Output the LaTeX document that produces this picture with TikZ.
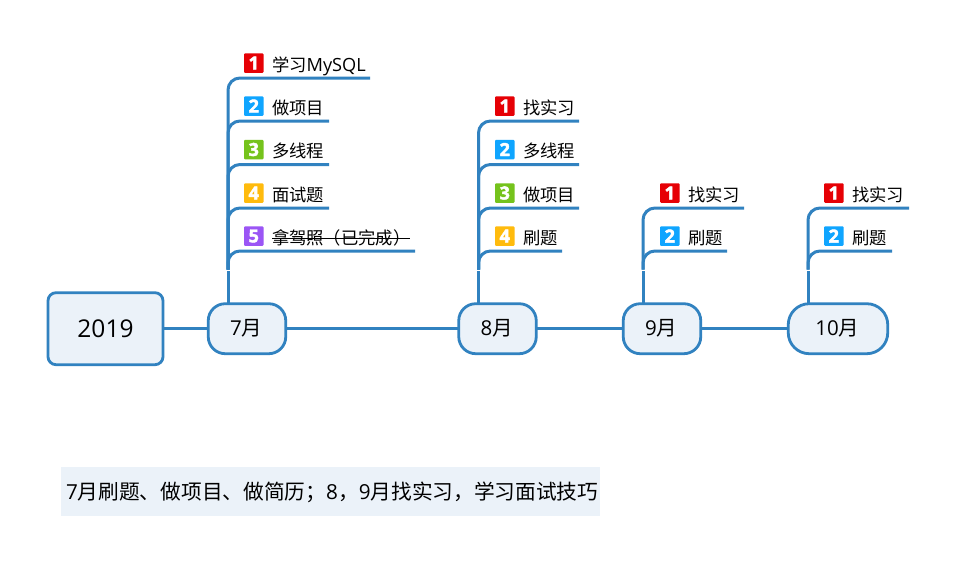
\documentclass[tikz,border=0pt]{standalone}
\usepackage{fontspec}
\setmainfont{Noto Sans CJK SC}
\newfontfamily\latf{Open Sans}
\newfontfamily\iconf[BoldFeatures={FakeBold=2.5}]{Open Sans}
\newcommand{\lat}[1]{{\latf #1}}
\definecolor{lineblue}{HTML}{3182C0}
\definecolor{boxfill}{HTML}{EBF2F9}
\definecolor{pri1}{HTML}{E60005}
\definecolor{pri2}{HTML}{0FA5FF}
\definecolor{pri3}{HTML}{75C31C}
\definecolor{pri4}{HTML}{FFBB0D}
\definecolor{pri5}{HTML}{9B55F5}
\tikzset{
  x=1pt,y=-1pt,
  bline/.style={draw=lineblue,line width=3pt,rounded corners=12pt},
  mline/.style={draw=lineblue,line width=2.6pt},
  tline/.style={draw=lineblue,line width=3pt},
  rootbox/.style={draw=lineblue,fill=boxfill,line width=2.8pt,rounded corners=8pt,minimum width=115pt,minimum height=72pt,inner sep=0pt,outer sep=0pt,font=\fontsize{24.5}{28}\selectfont},
  monthbox/.style={draw=lineblue,fill=boxfill,line width=2.8pt,rounded corners=17pt,minimum height=50pt,inner sep=0pt,outer sep=0pt,font=\fontsize{20.5}{24}\selectfont},
  iconbox/.style={fill=#1,rounded corners=1pt,minimum size=19.5pt,inner sep=0pt,outer sep=0pt,text=white,font=\iconf\bfseries\fontsize{18}{19}\selectfont},
  leaf/.style={anchor=base west,inner sep=0pt,outer sep=0pt,font=\fontsize{17.3}{20}\selectfont},
  notebox/.style={fill=boxfill,minimum width=539pt,minimum height=49pt,inner sep=0pt,outer sep=0pt},
  notetext/.style={anchor=base west,inner sep=0pt,outer sep=0pt,font=\fontsize{20.7}{24}\selectfont},
}
% #1 id, #2 trunk junction, #3 icon left x, #4 line y, #5 end x, #6 number, #7 colour, #8 text
\newcommand{\twig}[8]{%
  \node[iconbox=#7] (i#1) at (#3+9.75,#4-15) {#6};
  \node[leaf] (t#1) at (#3+28,#4-6.8) {#8};
  \coordinate (e#1) at (#5,#4);
  \draw[bline] (#2) |- (e#1);
}
\begin{document}
\begin{tikzpicture}
\useasboundingbox (0,0) rectangle (956,566);
\fill[white] (0,0) rectangle (956,566);

\node[rootbox] (root) at (105.5,328.7) {\lat{2019}};
\node[monthbox,minimum width=77.5pt] (m7) at (247,328.7) {\hspace*{-1.5pt}\lat{7}月};
\node[monthbox,minimum width=77.5pt] (m8) at (497.5,328.7) {\hspace*{-1.5pt}\lat{8}月};
\node[monthbox,minimum width=77.5pt] (m9) at (662,328.7) {\hspace*{-1.5pt}\lat{9}月};
\node[monthbox,minimum width=99.5pt,rounded corners=21pt] (m10) at (838,328.7) {\hspace*{-1.5pt}\lat{10}月};

\draw[mline] (root.east) -- (m7.west);
\draw[mline] (m7.east) -- (m8.west);
\draw[mline] (m8.east) -- (m9.west);
\draw[mline] (m9.east) -- (m10.west);

% trunks
\coordinate (j7) at (228,269.5);
\coordinate (j8) at (478.5,269.5);
\coordinate (j9) at (643,269.5);
\coordinate (j10) at (808,269.5);
\coordinate (s7) at (228,271);
\coordinate (s8) at (478.5,271);
\coordinate (s9) at (643,271);
\coordinate (s10) at (808,271);
\draw[tline] (s7) -- (s7 |- m7.north);
\draw[tline] (s8) -- (s8 |- m8.north);
\draw[tline] (s9) -- (s9 |- m9.north);
\draw[tline] (s10) -- (s10 |- m10.north);

% July
\twig{a1}{j7}{244}{78}{370}{1}{pri1}{学习{\latf\fontsize{18.2}{20}\selectfont MySQL}}
\twig{a2}{j7}{244}{121}{329}{2}{pri2}{做项目}
\twig{a3}{j7}{244}{164.5}{329}{3}{pri3}{多线程}
\twig{a4}{j7}{244}{208}{329}{4}{pri4}{面试题}
\twig{a5}{j7}{244}{251}{415}{5}{pri5}{拿驾照（已完成）}
\draw[black,line width=0.9pt] ([yshift=5.5pt]ta5.base west) -- ++(138,0) coordinate (sa5);

% August
\twig{b1}{j8}{495}{121}{579}{1}{pri1}{找实习}
\twig{b2}{j8}{495}{164.5}{579}{2}{pri2}{多线程}
\twig{b3}{j8}{495}{208}{579}{3}{pri3}{做项目}
\twig{b4}{j8}{495}{251}{562}{4}{pri4}{刷题}

% September
\twig{c1}{j9}{660}{208}{744}{1}{pri1}{找实习}
\twig{c2}{j9}{660}{251}{727}{2}{pri2}{刷题}

% October
\twig{d1}{j10}{824}{208}{909}{1}{pri1}{找实习}
\twig{d2}{j10}{824}{251}{892}{2}{pri2}{刷题}

% note
\node[notebox] (note) at (330.5,491.5) {};
\node[notetext] (notet) at (66,499.2) {\lat{7}月刷题、做项目、做简历；\lat{8}，\lat{9}月找实习，学习面试技巧};
\end{tikzpicture}
\end{document}
